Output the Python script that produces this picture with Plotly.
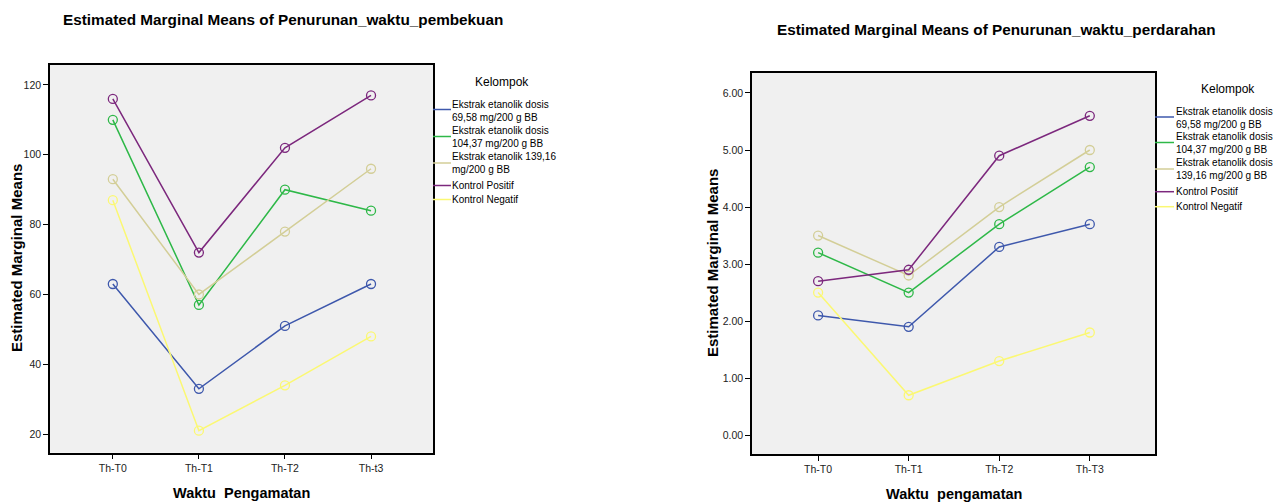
import plotly.graph_objects as go

W, H = 1283, 503

# ---------------- data ----------------
groups = ["Ekstrak etanolik dosis 69,58 mg/200 g BB",
          "Ekstrak etanolik dosis 104,37 mg/200 g BB",
          "Ekstrak etanolik 139,16 mg/200 g BB",
          "Kontrol Positif",
          "Kontrol Negatif"]
legend_left = ["Ekstrak etanolik dosis<br>69,58 mg/200 g BB",
               "Ekstrak etanolik dosis<br>104,37 mg/200 g BB",
               "Ekstrak etanolik 139,16<br>mg/200 g BB",
               "Kontrol Positif",
               "Kontrol Negatif"]
legend_right = ["Ekstrak etanolik dosis<br>69,58 mg/200 g BB",
                "Ekstrak etanolik dosis<br>104,37 mg/200 g BB",
                "Ekstrak etanolik dosis<br>139,16 mg/200 g BB",
                "Kontrol Positif",
                "Kontrol Negatif"]
colors = ["#3E58AC", "#2EB848", "#D3CE97", "#7C287D", "#FBF873"]

cats_left = ["Th-T0", "Th-T1", "Th-T2", "Th-t3"]
cats_right = ["Th-T0", "Th-T1", "Th-T2", "Th-T3"]

# Penurunan waktu pembekuan
pemb_69 = [63, 33, 51, 63]
pemb_104 = [110, 57, 90, 84]
pemb_139 = [93, 60, 78, 96]
pemb_pos = [116, 72, 102, 117]
pemb_neg = [87, 21, 34, 48]

# Penurunan waktu perdarahan
perd_69 = [2.1, 1.9, 3.3, 3.7]
perd_104 = [3.2, 2.5, 3.7, 4.7]
perd_139 = [3.5, 2.8, 4.0, 5.0]
perd_pos = [2.7, 2.9, 4.9, 5.6]
perd_neg = [2.5, 0.7, 1.3, 1.8]

left_series = [pemb_69, pemb_104, pemb_139, pemb_pos, pemb_neg]
right_series = [perd_69, perd_104, perd_139, perd_pos, perd_neg]

FONT = "Liberation Sans, Arial, sans-serif"


def px(x):
    return x / W


def py(y):
    return 1 - y / H


fig = go.Figure()

for name, vals, col in zip(groups, left_series, colors):
    fig.add_trace(go.Scatter(
        x=cats_left, y=vals, name=name, mode="lines+markers",
        line=dict(color=col, width=1.5),
        marker=dict(symbol="circle-open", size=9, color=col, line=dict(width=1.3, color=col)),
        xaxis="x", yaxis="y", showlegend=False))

for name, vals, col in zip(groups, right_series, colors):
    fig.add_trace(go.Scatter(
        x=cats_right, y=vals, name=name, mode="lines+markers",
        line=dict(color=col, width=1.5),
        marker=dict(symbol="circle-open", size=9, color=col, line=dict(width=1.3, color=col)),
        xaxis="x2", yaxis="y2", showlegend=False))

axis_common = dict(showline=True, mirror=True, linecolor="black", linewidth=1.5,
                   ticks="outside", ticklen=5, tickcolor="black", tickwidth=1,
                   showgrid=False, zeroline=False, automargin=False,
                   tickfont=dict(family=FONT, size=10.5, color="#222222"))

fig.update_layout(
    width=W, height=H, autosize=False,
    margin=dict(l=0, r=0, t=0, b=0),
    paper_bgcolor="white", plot_bgcolor="#F0F0F0",
    font=dict(family=FONT, color="black"),
    xaxis=dict(domain=[px(50), px(433)], anchor="y", type="category",
               range=[-0.73, 3.72], **axis_common),
    yaxis=dict(domain=[py(452.7), py(65)], anchor="x", range=[14.7, 125.7],
               tickvals=[20, 40, 60, 80, 100, 120], **axis_common),
    xaxis2=dict(domain=[px(752), px(1155)], anchor="y2", type="category",
                range=[-0.73, 3.72], **axis_common),
    yaxis2=dict(domain=[py(454), py(73)], anchor="x2", range=[-0.33, 6.35],
                tickvals=[0, 1, 2, 3, 4, 5, 6], tickformat=".2f", **axis_common),
)

annotations = []
shapes = []

# chart titles
annotations.append(dict(x=px(282.5), y=py(20), xref="paper", yref="paper",
                        text="<b>Estimated Marginal Means of Penurunan_waktu_pembekuan</b>",
                        showarrow=False, xanchor="center", yanchor="middle",
                        font=dict(family=FONT, size=15.3, color="black")))
annotations.append(dict(x=px(996), y=py(30), xref="paper", yref="paper",
                        text="<b>Estimated Marginal Means of Penurunan_waktu_perdarahan</b>",
                        showarrow=False, xanchor="center", yanchor="middle",
                        font=dict(family=FONT, size=15.3, color="black")))

# axis titles
annotations.append(dict(x=px(241.5), y=py(493), xref="paper", yref="paper",
                        text="<b>Waktu\u00a0 Pengamatan</b>", showarrow=False,
                        xanchor="center", yanchor="middle",
                        font=dict(family=FONT, size=14.5, color="black")))
annotations.append(dict(x=px(953.5), y=py(494), xref="paper", yref="paper",
                        text="<b>Waktu\u00a0 pengamatan</b>", showarrow=False,
                        xanchor="center", yanchor="middle",
                        font=dict(family=FONT, size=14.5, color="black")))
annotations.append(dict(x=px(16), y=py(258), xref="paper", yref="paper",
                        text="<b>Estimated Marginal Means</b>", showarrow=False, textangle=-90,
                        xanchor="center", yanchor="middle",
                        font=dict(family=FONT, size=15, color="black")))
annotations.append(dict(x=px(712), y=py(263), xref="paper", yref="paper",
                        text="<b>Estimated Marginal Means</b>", showarrow=False, textangle=-90,
                        xanchor="center", yanchor="middle",
                        font=dict(family=FONT, size=15, color="black")))


def add_legend(labels, title_xy, line_x0, line_x1, text_x, text_ys, line_ys):
    annotations.append(dict(x=px(title_xy[0]), y=py(title_xy[1]), xref="paper", yref="paper",
                            text="Kelompok", showarrow=False, xanchor="center", yanchor="middle",
                            font=dict(family=FONT, size=12, color="black")))
    for lab, col, ty, ly in zip(labels, colors, text_ys, line_ys):
        annotations.append(dict(x=px(text_x), y=py(ty), xref="paper", yref="paper",
                                text=lab, showarrow=False, xanchor="left", yanchor="middle",
                                align="left", borderpad=0,
                                font=dict(family=FONT, size=10, color="black")))
        shapes.append(dict(type="line", xref="paper", yref="paper",
                           x0=px(line_x0), x1=px(line_x1), y0=py(ly), y1=py(ly),
                           line=dict(color=col, width=1.5)))


add_legend(legend_left, (502, 82), 433, 451, 451,
           [110.8, 136.5, 163, 185.5, 199.5], [109.5, 136.5, 163, 185.5, 199.5])
add_legend(legend_right, (1228, 89), 1155, 1174, 1175,
           [117.5, 143.3, 169, 191.7, 206.7], [117, 142.5, 169, 191.7, 206.7])

fig.update_layout(annotations=annotations, shapes=shapes)

fig.write_html("out.html",
               config={"displayModeBar": False},
               post_script="document.body.style.margin='0px';"
                           "document.body.style.overflow='hidden';")
